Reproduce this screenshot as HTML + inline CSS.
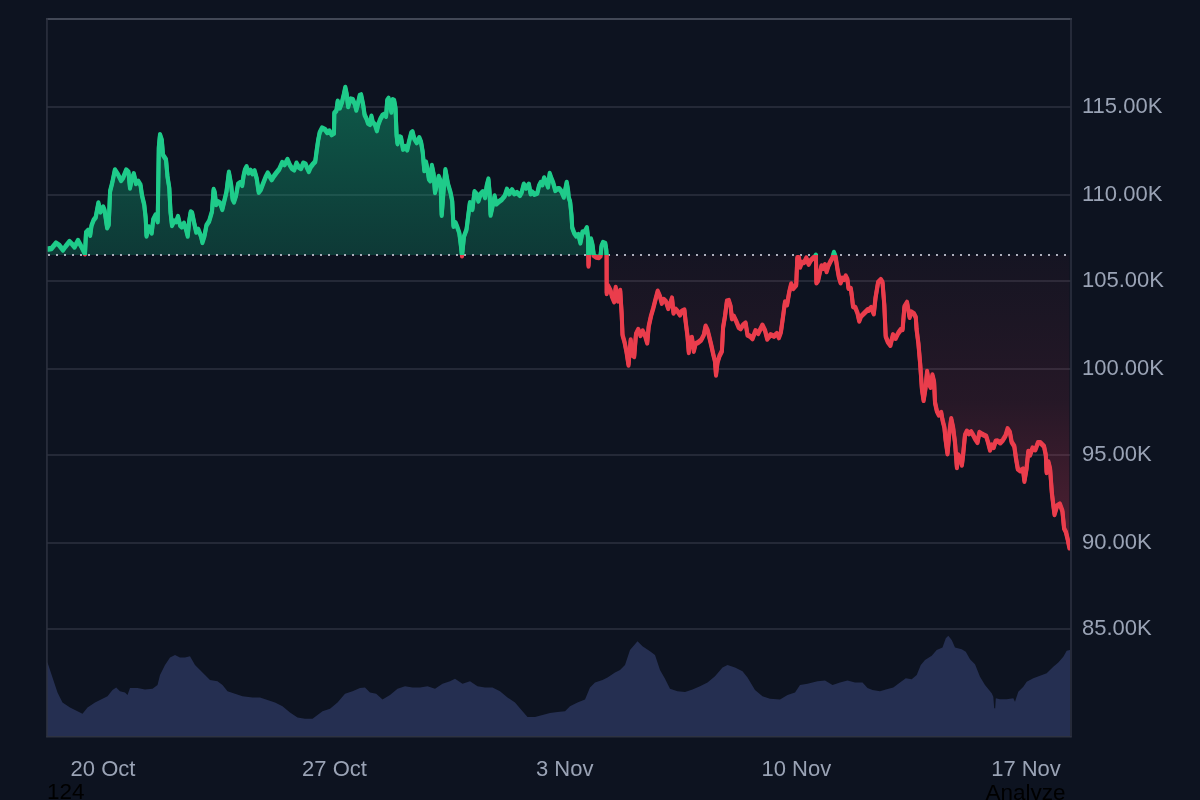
<!DOCTYPE html>
<html><head><meta charset="utf-8"><title>Chart</title>
<style>
html,body{margin:0;padding:0;width:1200px;height:800px;overflow:hidden;background:#0d1320;}
svg text{font-family:"Liberation Sans",Arial,sans-serif;font-size:22px;fill:#9aa3b5;}
.blk{position:absolute;font-family:"Liberation Sans",Arial,sans-serif;font-size:22.5px;color:#000;line-height:1;}
</style></head><body>
<svg width="1200" height="800" viewBox="0 0 1200 800" style="position:absolute;left:0;top:0">
<defs>
<linearGradient id="gG" gradientUnits="userSpaceOnUse" x1="0" y1="19" x2="0" y2="255.0">
<stop offset="0" stop-color="#10b981" stop-opacity="0.5"/><stop offset="1" stop-color="#10b981" stop-opacity="0.23"/></linearGradient>
<linearGradient id="gR" gradientUnits="userSpaceOnUse" x1="0" y1="255.0" x2="0" y2="550">
<stop offset="0" stop-color="#f43f5e" stop-opacity="0.035"/><stop offset="0.49" stop-color="#f43f5e" stop-opacity="0.105"/><stop offset="0.83" stop-color="#f43f5e" stop-opacity="0.235"/><stop offset="1" stop-color="#f43f5e" stop-opacity="0.3"/></linearGradient>
<clipPath id="cA"><rect x="47" y="19" width="1023" height="236.0"/></clipPath>
<clipPath id="cB"><rect x="47" y="255.0" width="1023" height="481.0"/></clipPath>
<clipPath id="cP"><rect x="47" y="19" width="1023" height="717"/></clipPath>
</defs>
<rect x="47" y="106" width="1023.5" height="2" fill="#242937"/>
<rect x="47" y="194" width="1023.5" height="2" fill="#242937"/>
<rect x="47" y="280" width="1023.5" height="2" fill="#242937"/>
<rect x="47" y="368" width="1023.5" height="2" fill="#242937"/>
<rect x="47" y="454" width="1023.5" height="2" fill="#242937"/>
<rect x="47" y="542" width="1023.5" height="2" fill="#242937"/>
<rect x="47" y="628" width="1023.5" height="2" fill="#242937"/>
<polygon points="47,736 47,662.5 47.5,662.5 52.5,677.5 57.5,692.5 62.5,702.5 70,707.5 77.5,711.2 82.5,713.7 87.5,707.5 95,702.5 102.5,698.7 107.5,696.2 112.5,690 116.2,687.5 120,691.2 125,692.5 127.5,695 130,688 137.5,688 145,689.5 152.5,688.7 157.5,685 160,675 165,665 170,657.5 175,655 180,657.5 185,657.5 190,656.2 195,665 200,670 205,675 210,680 217.5,681.2 222.5,685 227.5,691.2 235,693.7 242.5,696.2 252.5,697.5 260,697.5 267.5,700 275,702.5 282.5,706.2 290,712.5 297.5,717.5 305,718.7 312.5,718.7 317.5,715 322.5,711.2 330,708.7 337.5,702.5 345,693.7 352.5,691.2 360,688 365,687.5 370,692.5 376.2,693.7 382.5,699.5 390,695 397.5,688.7 405,686.2 412.5,687.5 420,687.5 427.5,686.2 435,688.7 442.5,683.7 450,681.2 455,678.7 462.5,683.7 470,681.2 477.5,686.2 485,687.5 492.5,687.5 500,691.2 507.5,697.5 515,702.5 522.5,711.2 527.5,717 535,717 542.5,715 550,713 557.5,712 565,711.2 570,706.2 577.5,702.5 585,699.5 590,687.5 595,682.5 602.5,680 607.5,677.5 615,672.5 620,670 625,665 630,650 637.5,641.2 642.5,646.2 650,651.2 655,655 660,670 665,678.7 670,688.7 677.5,691.2 685,692 692.5,689.5 700,686.2 707.5,682.5 715,676.2 722.5,667.5 727.5,665 735,667.5 742.5,671.2 747.5,677.5 755,690 762.5,696.2 770,698.7 780,699.5 787.5,695 795,692.5 800,685 807.5,683.7 817.5,681.2 825,680.5 832.5,685 840,682.5 847.5,680.5 855,682.5 862.5,682.5 867.5,688 872.5,690 880,691.2 886.7,689.2 893.3,687.5 900,682.5 905.8,678.3 911.7,679.2 916.7,675 920.8,665 925,660 931.7,655.8 936.7,650 942.5,647.5 945.8,638.3 948.3,635.8 951.7,640 955,647.5 961.7,649.2 965.8,651.7 970,659.2 975,664.2 980,676.7 985,685 991.7,693.3 993.3,696.7 994.2,708.3 995.2,708.3 995.8,698.3 1000,699.2 1006.7,699.2 1013.3,698.3 1015,701.7 1018.3,691.7 1023.3,686.7 1026.7,681.7 1033.3,678.3 1040,675.8 1046.7,673.3 1053.3,666.7 1058.3,662.5 1063.3,656.7 1066.7,650.8 1070,650 1070,736" fill="#252f51"/>
<polygon points="47,255 47,249 48.5,249 51.5,248.5 56,243 59,245 63,250 65.5,246.5 69.5,241.5 72,244 74.5,247 78,240.5 81,246 83.5,251 85,253.8 86,232.5 88.1,230.4 90.2,235.2 91.5,225.6 93.6,220.1 95.7,217.4 98.4,202.9 100.5,211.9 103.2,207 104.6,210.5 107.1,227.7 108.7,224.9 110.1,191.2 112.2,183 114.9,169.9 118,174.5 121,180.5 123.2,177.5 126.2,170 128.5,172.2 130,188 131.8,179 133.8,173.7 136,183.5 138.2,181.2 140.5,185 142,195.5 144.2,204.5 145.7,218 146.5,236 148.7,227 150.2,230 151.7,233 153.2,219.5 155.5,215 157.7,221.7 158.8,147.5 160,134.7 161.8,140 163,155 166,159.5 167.5,176.7 169.3,188 170.5,212 172,225.5 174.2,221 176.2,221.7 178,216.5 180.2,225.5 181.7,227 184,223.2 186.2,230 187.7,236 189.2,221 190.7,212 192.1,212.9 194.1,222.5 196.2,232.1 198.2,229.3 201,236.2 202.4,242.4 204.4,236.2 206.5,225.2 209.2,221.1 212,211.5 213.6,189.5 214.7,192.2 216.1,204.6 218.2,201.9 220.2,203.2 222.3,209.4 224.4,200.5 226.4,192.2 228.9,172.3 231.2,185.4 232.6,199.1 234,201.9 236,195.7 238.1,184 240.2,182.6 242.2,185.4 243.6,175.7 245,169.6 246.6,166.8 248.4,173 250.5,170.2 252.5,173.7 254.6,170.9 256.7,178.5 258.7,192.2 260.8,189.5 262.9,184 265.6,177.1 267.7,173 269.5,176 271.7,179.7 274,176 276.2,173 279.2,169.2 282.2,162.5 284.5,164.7 287.5,159.5 289.7,164.7 292,168.5 294.2,170 296.5,163.2 298.7,167 301,168.5 303.2,163.2 305.5,164 307,167.7 308.8,171.5 310.7,167 313,164 315.2,161.7 316.7,150.5 318.2,140 319.7,132.5 322,128 325,129.5 327.2,132.5 329.5,131 331.7,134.7 334,133.2 334.3,113 336.4,110.7 337.7,101.1 339.8,108 341.9,102.5 343.9,94.2 345.3,87.4 346.7,94.2 348.1,106.6 349.4,102.5 350.8,99 352.9,99.7 354.9,104.6 356.3,110 357.7,104.6 359.7,95.6 361.1,94.9 363.2,105.2 364.6,114.9 366.6,119 368,123.1 370,124.5 371.4,116.2 372.8,122.4 374.9,124.5 376.9,130.7 378.3,124.5 380.4,119 382.4,115.5 384.5,114.2 386.1,116.2 387.2,100.4 388.6,98.4 390,105.2 391.4,112.1 392.7,99.7 394.1,100.4 395.5,108 396.6,135.5 397.5,143.7 399.6,136.9 401,137.5 403,149.2 405.1,146.5 407.2,149.9 409.2,141 411.3,132.7 412.5,131.8 414.2,138.5 416.8,142.7 419.3,137.7 421,141.9 422.7,152 424.3,170.6 426,162.1 427.7,170.6 428.9,179 430.3,180.7 431.9,165.5 433.6,174 435,192.5 437,184.1 438.7,176.5 440.4,180.7 441.7,215.3 443.4,192.5 445.4,169.7 448,184.1 450.5,192.5 452.2,201 453.5,226.3 455.6,222.9 457.6,228 459.3,233 460.6,243.1 462,255.8 464,236.4 466.5,229.6 468.2,216.1 469.9,202.6 472.4,209.4 474.5,191.7 476.7,194.2 478.4,201 480.5,194.2 482.9,191.7 485.1,197.6 486.7,185.9 488.4,179.1 489.5,191.5 490.6,215.1 492.3,207.3 494.6,196 496.3,203.9 499.1,201.6 501.9,199.4 504.7,196 506.9,189.3 509.2,193.8 512,189.8 514.3,193.8 517.1,192.6 519.9,195.4 521.6,192.6 523.8,184.2 526.1,188.1 528.9,184.2 530.6,193.8 532.3,192.1 534.5,194.3 537.3,193.2 539,185.9 540.7,182.5 542.4,184.8 544.1,178 546.3,181.9 548,187 549.7,173.5 551.4,178.6 553.1,182.5 555.3,190.4 557.6,188.7 559.3,188.7 561.5,191.5 563.8,197.1 566.7,182.4 568.1,190.6 568.7,197.5 570.1,201.6 571.5,215.4 572.2,227.7 574.2,233.2 576.3,236 578.4,234.6 580.4,242.9 582.5,231.9 584.6,231.9 586.9,227.7 588,237.4 588.5,266 589.4,252.5 591,239 592.5,245 593.8,255.5 596,257 599,257.5 600.5,256 601.5,246 603,242.5 605.3,243.5 606.3,250 606.6,256 606.7,293.5 608.2,286 610.5,290.5 612,296.5 614.2,301.7 615.7,287.5 618,301 620.2,290.5 621.7,314.5 622.5,335 624.5,342 626.5,352 628.5,365 630.7,340 632.2,355 634.2,356.5 636,334 638.2,329.5 640.5,335.5 642.7,331 645,335.5 647.2,343 648.7,326.5 651,316 653.2,308.5 655.5,299.5 657.7,291.2 660,296.5 661.8,303.2 663.7,299.5 666,301.7 668.2,308.5 670.5,302.5 672,298 673.5,313 675.7,309.2 677.5,311.2 680,315 681.9,311.2 684.4,310 685.6,321.2 687.5,336.2 688.8,352.5 690,338.7 691.9,337.5 693.8,351.2 695.6,343.7 698.1,342.5 701.2,340 703.8,335 705.6,326.2 707.5,330 709.4,337.5 711.2,345 713.1,353.7 715,361.2 716,375 717.5,362.5 719.4,356.2 721.9,351.2 723.1,327.5 725,316.2 726.9,301.2 728.8,300.6 730.6,306.2 731.9,318.7 733.8,316.2 736.2,321.2 738.8,327.5 740.6,328.7 743.1,325 745.6,323.1 747.5,335 750,336.2 752.5,338.7 755.5,330.7 758.2,333.5 762.4,325.2 765.1,330.7 767.2,339 770.6,334.8 774.1,336.2 776.8,333.5 778.9,337.6 780.9,332.1 783,317 785,301.9 787.1,304.6 789.2,292.2 791.2,284 793.4,288.4 796.2,285 797.3,257.8 799,257.8 800.1,267 801.8,262.5 804.1,262.5 806.3,258 808.6,264.2 810.8,260.3 813.1,258 815.2,256.5 815.9,255.2 816.4,282.8 818.1,280.5 819.8,272.6 821.5,265.9 823.2,268.1 824.9,264.8 826.6,271.5 828.3,265.9 830.5,261.4 832.5,258 833.9,252.4 835.6,256.9 837.3,268.1 838.9,277.1 840.6,282.8 842.3,278.3 844,279.4 845.7,276 847.4,279.4 848.5,288.4 850.8,288.4 851.9,296.3 853,306.4 855.3,307.5 857.5,313.1 859.2,321 860.9,316.5 864.3,313.1 867.6,309.8 868.5,310.3 871.1,307.6 873.8,313.8 875.5,298 878.1,282.3 880.8,279.6 882.5,282.3 884.3,305 885.7,336.5 887.8,341.8 890.4,345.3 893,334.8 895.6,338.3 898.3,333 900.9,329.5 902.6,329.5 904.4,306.8 907,302.4 909.6,317.3 911.4,312 914,313.8 915.8,317.3 916.6,329.5 918.4,343.5 920.1,362.8 921.9,389 923.6,400.4 925.4,389 927.1,371.5 928.9,383.8 930.6,387.3 932.4,375 934.1,382 935,402.5 936.9,411.2 938.8,415 941.2,412.5 942.5,420 944.4,427.5 945.6,440 947.5,453.7 949.4,432.5 951.2,418.7 953.1,427.5 955,442.5 956.9,467.5 958.1,455 960,457.5 961.9,465 963.1,455 965,435 966.9,431.2 968.8,433.7 971.2,431.9 973.1,435 975,438.7 977.5,442.5 979.4,432.5 981.2,433.7 983.7,435 986.2,436.2 988.1,442.5 990,450 991.9,445 993.7,447.5 995.6,441.2 997.6,441 1000.3,442.8 1002.9,440.1 1005.5,435.8 1007.6,428.8 1009.9,432.3 1011.6,441.9 1014.3,446.3 1016,458.5 1017.8,469 1020.4,470.8 1023,469 1024.4,481.3 1026.5,469 1028.3,451.5 1030,455 1032.6,448 1035.3,449.8 1037.9,442.8 1040.5,442.8 1044,446.3 1045.8,455 1046.6,472.5 1048.4,462 1050.1,469 1051.9,493.5 1054.5,514.5 1057.1,505.8 1059.8,504 1062.4,511 1064.1,528.5 1065.9,532 1067.6,539 1069.4,547.8 1069.4,255" fill="url(#gG)" clip-path="url(#cA)"/>
<polygon points="47,255 47,249 48.5,249 51.5,248.5 56,243 59,245 63,250 65.5,246.5 69.5,241.5 72,244 74.5,247 78,240.5 81,246 83.5,251 85,253.8 86,232.5 88.1,230.4 90.2,235.2 91.5,225.6 93.6,220.1 95.7,217.4 98.4,202.9 100.5,211.9 103.2,207 104.6,210.5 107.1,227.7 108.7,224.9 110.1,191.2 112.2,183 114.9,169.9 118,174.5 121,180.5 123.2,177.5 126.2,170 128.5,172.2 130,188 131.8,179 133.8,173.7 136,183.5 138.2,181.2 140.5,185 142,195.5 144.2,204.5 145.7,218 146.5,236 148.7,227 150.2,230 151.7,233 153.2,219.5 155.5,215 157.7,221.7 158.8,147.5 160,134.7 161.8,140 163,155 166,159.5 167.5,176.7 169.3,188 170.5,212 172,225.5 174.2,221 176.2,221.7 178,216.5 180.2,225.5 181.7,227 184,223.2 186.2,230 187.7,236 189.2,221 190.7,212 192.1,212.9 194.1,222.5 196.2,232.1 198.2,229.3 201,236.2 202.4,242.4 204.4,236.2 206.5,225.2 209.2,221.1 212,211.5 213.6,189.5 214.7,192.2 216.1,204.6 218.2,201.9 220.2,203.2 222.3,209.4 224.4,200.5 226.4,192.2 228.9,172.3 231.2,185.4 232.6,199.1 234,201.9 236,195.7 238.1,184 240.2,182.6 242.2,185.4 243.6,175.7 245,169.6 246.6,166.8 248.4,173 250.5,170.2 252.5,173.7 254.6,170.9 256.7,178.5 258.7,192.2 260.8,189.5 262.9,184 265.6,177.1 267.7,173 269.5,176 271.7,179.7 274,176 276.2,173 279.2,169.2 282.2,162.5 284.5,164.7 287.5,159.5 289.7,164.7 292,168.5 294.2,170 296.5,163.2 298.7,167 301,168.5 303.2,163.2 305.5,164 307,167.7 308.8,171.5 310.7,167 313,164 315.2,161.7 316.7,150.5 318.2,140 319.7,132.5 322,128 325,129.5 327.2,132.5 329.5,131 331.7,134.7 334,133.2 334.3,113 336.4,110.7 337.7,101.1 339.8,108 341.9,102.5 343.9,94.2 345.3,87.4 346.7,94.2 348.1,106.6 349.4,102.5 350.8,99 352.9,99.7 354.9,104.6 356.3,110 357.7,104.6 359.7,95.6 361.1,94.9 363.2,105.2 364.6,114.9 366.6,119 368,123.1 370,124.5 371.4,116.2 372.8,122.4 374.9,124.5 376.9,130.7 378.3,124.5 380.4,119 382.4,115.5 384.5,114.2 386.1,116.2 387.2,100.4 388.6,98.4 390,105.2 391.4,112.1 392.7,99.7 394.1,100.4 395.5,108 396.6,135.5 397.5,143.7 399.6,136.9 401,137.5 403,149.2 405.1,146.5 407.2,149.9 409.2,141 411.3,132.7 412.5,131.8 414.2,138.5 416.8,142.7 419.3,137.7 421,141.9 422.7,152 424.3,170.6 426,162.1 427.7,170.6 428.9,179 430.3,180.7 431.9,165.5 433.6,174 435,192.5 437,184.1 438.7,176.5 440.4,180.7 441.7,215.3 443.4,192.5 445.4,169.7 448,184.1 450.5,192.5 452.2,201 453.5,226.3 455.6,222.9 457.6,228 459.3,233 460.6,243.1 462,255.8 464,236.4 466.5,229.6 468.2,216.1 469.9,202.6 472.4,209.4 474.5,191.7 476.7,194.2 478.4,201 480.5,194.2 482.9,191.7 485.1,197.6 486.7,185.9 488.4,179.1 489.5,191.5 490.6,215.1 492.3,207.3 494.6,196 496.3,203.9 499.1,201.6 501.9,199.4 504.7,196 506.9,189.3 509.2,193.8 512,189.8 514.3,193.8 517.1,192.6 519.9,195.4 521.6,192.6 523.8,184.2 526.1,188.1 528.9,184.2 530.6,193.8 532.3,192.1 534.5,194.3 537.3,193.2 539,185.9 540.7,182.5 542.4,184.8 544.1,178 546.3,181.9 548,187 549.7,173.5 551.4,178.6 553.1,182.5 555.3,190.4 557.6,188.7 559.3,188.7 561.5,191.5 563.8,197.1 566.7,182.4 568.1,190.6 568.7,197.5 570.1,201.6 571.5,215.4 572.2,227.7 574.2,233.2 576.3,236 578.4,234.6 580.4,242.9 582.5,231.9 584.6,231.9 586.9,227.7 588,237.4 588.5,266 589.4,252.5 591,239 592.5,245 593.8,255.5 596,257 599,257.5 600.5,256 601.5,246 603,242.5 605.3,243.5 606.3,250 606.6,256 606.7,293.5 608.2,286 610.5,290.5 612,296.5 614.2,301.7 615.7,287.5 618,301 620.2,290.5 621.7,314.5 622.5,335 624.5,342 626.5,352 628.5,365 630.7,340 632.2,355 634.2,356.5 636,334 638.2,329.5 640.5,335.5 642.7,331 645,335.5 647.2,343 648.7,326.5 651,316 653.2,308.5 655.5,299.5 657.7,291.2 660,296.5 661.8,303.2 663.7,299.5 666,301.7 668.2,308.5 670.5,302.5 672,298 673.5,313 675.7,309.2 677.5,311.2 680,315 681.9,311.2 684.4,310 685.6,321.2 687.5,336.2 688.8,352.5 690,338.7 691.9,337.5 693.8,351.2 695.6,343.7 698.1,342.5 701.2,340 703.8,335 705.6,326.2 707.5,330 709.4,337.5 711.2,345 713.1,353.7 715,361.2 716,375 717.5,362.5 719.4,356.2 721.9,351.2 723.1,327.5 725,316.2 726.9,301.2 728.8,300.6 730.6,306.2 731.9,318.7 733.8,316.2 736.2,321.2 738.8,327.5 740.6,328.7 743.1,325 745.6,323.1 747.5,335 750,336.2 752.5,338.7 755.5,330.7 758.2,333.5 762.4,325.2 765.1,330.7 767.2,339 770.6,334.8 774.1,336.2 776.8,333.5 778.9,337.6 780.9,332.1 783,317 785,301.9 787.1,304.6 789.2,292.2 791.2,284 793.4,288.4 796.2,285 797.3,257.8 799,257.8 800.1,267 801.8,262.5 804.1,262.5 806.3,258 808.6,264.2 810.8,260.3 813.1,258 815.2,256.5 815.9,255.2 816.4,282.8 818.1,280.5 819.8,272.6 821.5,265.9 823.2,268.1 824.9,264.8 826.6,271.5 828.3,265.9 830.5,261.4 832.5,258 833.9,252.4 835.6,256.9 837.3,268.1 838.9,277.1 840.6,282.8 842.3,278.3 844,279.4 845.7,276 847.4,279.4 848.5,288.4 850.8,288.4 851.9,296.3 853,306.4 855.3,307.5 857.5,313.1 859.2,321 860.9,316.5 864.3,313.1 867.6,309.8 868.5,310.3 871.1,307.6 873.8,313.8 875.5,298 878.1,282.3 880.8,279.6 882.5,282.3 884.3,305 885.7,336.5 887.8,341.8 890.4,345.3 893,334.8 895.6,338.3 898.3,333 900.9,329.5 902.6,329.5 904.4,306.8 907,302.4 909.6,317.3 911.4,312 914,313.8 915.8,317.3 916.6,329.5 918.4,343.5 920.1,362.8 921.9,389 923.6,400.4 925.4,389 927.1,371.5 928.9,383.8 930.6,387.3 932.4,375 934.1,382 935,402.5 936.9,411.2 938.8,415 941.2,412.5 942.5,420 944.4,427.5 945.6,440 947.5,453.7 949.4,432.5 951.2,418.7 953.1,427.5 955,442.5 956.9,467.5 958.1,455 960,457.5 961.9,465 963.1,455 965,435 966.9,431.2 968.8,433.7 971.2,431.9 973.1,435 975,438.7 977.5,442.5 979.4,432.5 981.2,433.7 983.7,435 986.2,436.2 988.1,442.5 990,450 991.9,445 993.7,447.5 995.6,441.2 997.6,441 1000.3,442.8 1002.9,440.1 1005.5,435.8 1007.6,428.8 1009.9,432.3 1011.6,441.9 1014.3,446.3 1016,458.5 1017.8,469 1020.4,470.8 1023,469 1024.4,481.3 1026.5,469 1028.3,451.5 1030,455 1032.6,448 1035.3,449.8 1037.9,442.8 1040.5,442.8 1044,446.3 1045.8,455 1046.6,472.5 1048.4,462 1050.1,469 1051.9,493.5 1054.5,514.5 1057.1,505.8 1059.8,504 1062.4,511 1064.1,528.5 1065.9,532 1067.6,539 1069.4,547.8 1069.4,255" fill="url(#gR)" clip-path="url(#cB)"/>
<path d="M48 254h2v2h-2zM56 254h2v2h-2zM64 254h2v2h-2zM72 254h2v2h-2zM80 254h2v2h-2zM88 254h2v2h-2zM96 254h2v2h-2zM104 254h2v2h-2zM112 254h2v2h-2zM120 254h2v2h-2zM128 254h2v2h-2zM136 254h2v2h-2zM144 254h2v2h-2zM152 254h2v2h-2zM160 254h2v2h-2zM168 254h2v2h-2zM176 254h2v2h-2zM184 254h2v2h-2zM192 254h2v2h-2zM200 254h2v2h-2zM208 254h2v2h-2zM216 254h2v2h-2zM224 254h2v2h-2zM232 254h2v2h-2zM240 254h2v2h-2zM248 254h2v2h-2zM256 254h2v2h-2zM264 254h2v2h-2zM272 254h2v2h-2zM280 254h2v2h-2zM288 254h2v2h-2zM296 254h2v2h-2zM304 254h2v2h-2zM312 254h2v2h-2zM320 254h2v2h-2zM328 254h2v2h-2zM336 254h2v2h-2zM344 254h2v2h-2zM352 254h2v2h-2zM360 254h2v2h-2zM368 254h2v2h-2zM376 254h2v2h-2zM384 254h2v2h-2zM392 254h2v2h-2zM400 254h2v2h-2zM408 254h2v2h-2zM416 254h2v2h-2zM424 254h2v2h-2zM432 254h2v2h-2zM440 254h2v2h-2zM448 254h2v2h-2zM456 254h2v2h-2zM464 254h2v2h-2zM472 254h2v2h-2zM480 254h2v2h-2zM488 254h2v2h-2zM496 254h2v2h-2zM504 254h2v2h-2zM512 254h2v2h-2zM520 254h2v2h-2zM528 254h2v2h-2zM536 254h2v2h-2zM544 254h2v2h-2zM552 254h2v2h-2zM560 254h2v2h-2zM568 254h2v2h-2zM576 254h2v2h-2zM584 254h2v2h-2zM592 254h2v2h-2zM600 254h2v2h-2zM608 254h2v2h-2zM616 254h2v2h-2zM624 254h2v2h-2zM632 254h2v2h-2zM640 254h2v2h-2zM648 254h2v2h-2zM656 254h2v2h-2zM664 254h2v2h-2zM672 254h2v2h-2zM680 254h2v2h-2zM688 254h2v2h-2zM696 254h2v2h-2zM704 254h2v2h-2zM712 254h2v2h-2zM720 254h2v2h-2zM728 254h2v2h-2zM736 254h2v2h-2zM744 254h2v2h-2zM752 254h2v2h-2zM760 254h2v2h-2zM768 254h2v2h-2zM776 254h2v2h-2zM784 254h2v2h-2zM792 254h2v2h-2zM800 254h2v2h-2zM808 254h2v2h-2zM816 254h2v2h-2zM824 254h2v2h-2zM832 254h2v2h-2zM840 254h2v2h-2zM848 254h2v2h-2zM856 254h2v2h-2zM864 254h2v2h-2zM872 254h2v2h-2zM880 254h2v2h-2zM888 254h2v2h-2zM896 254h2v2h-2zM904 254h2v2h-2zM912 254h2v2h-2zM920 254h2v2h-2zM928 254h2v2h-2zM936 254h2v2h-2zM944 254h2v2h-2zM952 254h2v2h-2zM960 254h2v2h-2zM968 254h2v2h-2zM976 254h2v2h-2zM984 254h2v2h-2zM992 254h2v2h-2zM1000 254h2v2h-2zM1008 254h2v2h-2zM1016 254h2v2h-2zM1024 254h2v2h-2zM1032 254h2v2h-2zM1040 254h2v2h-2zM1048 254h2v2h-2zM1056 254h2v2h-2zM1064 254h2v2h-2z" fill="#adb0bd"/>
<g fill="none" stroke-width="4" stroke-linejoin="round" stroke-linecap="round">
<g clip-path="url(#cA)" stroke="#1fcb8a"><polyline points="47,249 48.5,249 51.5,248.5 56,243 59,245 63,250 65.5,246.5 69.5,241.5 72,244 74.5,247 78,240.5 81,246 83.5,251 85,253.8 86,232.5 88.1,230.4 90.2,235.2 91.5,225.6 93.6,220.1 95.7,217.4 98.4,202.9 100.5,211.9 103.2,207 104.6,210.5 107.1,227.7 108.7,224.9 110.1,191.2 112.2,183 114.9,169.9 118,174.5 121,180.5 123.2,177.5 126.2,170 128.5,172.2 130,188 131.8,179 133.8,173.7 136,183.5 138.2,181.2 140.5,185 142,195.5 144.2,204.5 145.7,218 146.5,236 148.7,227 150.2,230 151.7,233 153.2,219.5 155.5,215 157.7,221.7 158.8,147.5 160,134.7 161.8,140 163,155 166,159.5 167.5,176.7 169.3,188 170.5,212 172,225.5 174.2,221 176.2,221.7 178,216.5 180.2,225.5 181.7,227 184,223.2 186.2,230 187.7,236 189.2,221 190.7,212 192.1,212.9 194.1,222.5 196.2,232.1 198.2,229.3 201,236.2 202.4,242.4 204.4,236.2 206.5,225.2 209.2,221.1 212,211.5 213.6,189.5 214.7,192.2 216.1,204.6 218.2,201.9 220.2,203.2 222.3,209.4 224.4,200.5 226.4,192.2 228.9,172.3 231.2,185.4 232.6,199.1 234,201.9 236,195.7 238.1,184 240.2,182.6 242.2,185.4 243.6,175.7 245,169.6 246.6,166.8 248.4,173 250.5,170.2 252.5,173.7 254.6,170.9 256.7,178.5 258.7,192.2 260.8,189.5 262.9,184 265.6,177.1 267.7,173 269.5,176 271.7,179.7 274,176 276.2,173 279.2,169.2 282.2,162.5 284.5,164.7 287.5,159.5 289.7,164.7 292,168.5 294.2,170 296.5,163.2 298.7,167 301,168.5 303.2,163.2 305.5,164 307,167.7 308.8,171.5 310.7,167 313,164 315.2,161.7 316.7,150.5 318.2,140 319.7,132.5 322,128 325,129.5 327.2,132.5 329.5,131 331.7,134.7 334,133.2 334.3,113 336.4,110.7 337.7,101.1 339.8,108 341.9,102.5 343.9,94.2 345.3,87.4 346.7,94.2 348.1,106.6 349.4,102.5 350.8,99 352.9,99.7 354.9,104.6 356.3,110 357.7,104.6 359.7,95.6 361.1,94.9 363.2,105.2 364.6,114.9 366.6,119 368,123.1 370,124.5 371.4,116.2 372.8,122.4 374.9,124.5 376.9,130.7 378.3,124.5 380.4,119 382.4,115.5 384.5,114.2 386.1,116.2 387.2,100.4 388.6,98.4 390,105.2 391.4,112.1 392.7,99.7 394.1,100.4 395.5,108 396.6,135.5 397.5,143.7 399.6,136.9 401,137.5 403,149.2 405.1,146.5 407.2,149.9 409.2,141 411.3,132.7 412.5,131.8 414.2,138.5 416.8,142.7 419.3,137.7 421,141.9 422.7,152 424.3,170.6 426,162.1 427.7,170.6 428.9,179 430.3,180.7 431.9,165.5 433.6,174 435,192.5 437,184.1 438.7,176.5 440.4,180.7 441.7,215.3 443.4,192.5 445.4,169.7 448,184.1 450.5,192.5 452.2,201 453.5,226.3 455.6,222.9 457.6,228 459.3,233 460.6,243.1 462,255.8 464,236.4 466.5,229.6 468.2,216.1 469.9,202.6 472.4,209.4 474.5,191.7 476.7,194.2 478.4,201 480.5,194.2 482.9,191.7 485.1,197.6 486.7,185.9 488.4,179.1 489.5,191.5 490.6,215.1 492.3,207.3 494.6,196 496.3,203.9 499.1,201.6 501.9,199.4 504.7,196 506.9,189.3 509.2,193.8 512,189.8 514.3,193.8 517.1,192.6 519.9,195.4 521.6,192.6 523.8,184.2 526.1,188.1 528.9,184.2 530.6,193.8 532.3,192.1 534.5,194.3 537.3,193.2 539,185.9 540.7,182.5 542.4,184.8 544.1,178 546.3,181.9 548,187 549.7,173.5 551.4,178.6 553.1,182.5 555.3,190.4 557.6,188.7 559.3,188.7 561.5,191.5 563.8,197.1 566.7,182.4 568.1,190.6 568.7,197.5 570.1,201.6 571.5,215.4 572.2,227.7 574.2,233.2 576.3,236 578.4,234.6 580.4,242.9 582.5,231.9 584.6,231.9 586.9,227.7 588,237.4 588.5,266 589.4,252.5 591,239 592.5,245 593.8,255.5 596,257 599,257.5 600.5,256 601.5,246 603,242.5 605.3,243.5 606.3,250 606.6,256 606.7,293.5 608.2,286 610.5,290.5 612,296.5 614.2,301.7 615.7,287.5 618,301 620.2,290.5 621.7,314.5 622.5,335 624.5,342 626.5,352 628.5,365 630.7,340 632.2,355 634.2,356.5 636,334 638.2,329.5 640.5,335.5 642.7,331 645,335.5 647.2,343 648.7,326.5 651,316 653.2,308.5 655.5,299.5 657.7,291.2 660,296.5 661.8,303.2 663.7,299.5 666,301.7 668.2,308.5 670.5,302.5 672,298 673.5,313 675.7,309.2 677.5,311.2 680,315 681.9,311.2 684.4,310 685.6,321.2 687.5,336.2 688.8,352.5 690,338.7 691.9,337.5 693.8,351.2 695.6,343.7 698.1,342.5 701.2,340 703.8,335 705.6,326.2 707.5,330 709.4,337.5 711.2,345 713.1,353.7 715,361.2 716,375 717.5,362.5 719.4,356.2 721.9,351.2 723.1,327.5 725,316.2 726.9,301.2 728.8,300.6 730.6,306.2 731.9,318.7 733.8,316.2 736.2,321.2 738.8,327.5 740.6,328.7 743.1,325 745.6,323.1 747.5,335 750,336.2 752.5,338.7 755.5,330.7 758.2,333.5 762.4,325.2 765.1,330.7 767.2,339 770.6,334.8 774.1,336.2 776.8,333.5 778.9,337.6 780.9,332.1 783,317 785,301.9 787.1,304.6 789.2,292.2 791.2,284 793.4,288.4 796.2,285 797.3,257.8 799,257.8 800.1,267 801.8,262.5 804.1,262.5 806.3,258 808.6,264.2 810.8,260.3 813.1,258 815.2,256.5 815.9,255.2 816.4,282.8 818.1,280.5 819.8,272.6 821.5,265.9 823.2,268.1 824.9,264.8 826.6,271.5 828.3,265.9 830.5,261.4 832.5,258 833.9,252.4 835.6,256.9 837.3,268.1 838.9,277.1 840.6,282.8 842.3,278.3 844,279.4 845.7,276 847.4,279.4 848.5,288.4 850.8,288.4 851.9,296.3 853,306.4 855.3,307.5 857.5,313.1 859.2,321 860.9,316.5 864.3,313.1 867.6,309.8 868.5,310.3 871.1,307.6 873.8,313.8 875.5,298 878.1,282.3 880.8,279.6 882.5,282.3 884.3,305 885.7,336.5 887.8,341.8 890.4,345.3 893,334.8 895.6,338.3 898.3,333 900.9,329.5 902.6,329.5 904.4,306.8 907,302.4 909.6,317.3 911.4,312 914,313.8 915.8,317.3 916.6,329.5 918.4,343.5 920.1,362.8 921.9,389 923.6,400.4 925.4,389 927.1,371.5 928.9,383.8 930.6,387.3 932.4,375 934.1,382 935,402.5 936.9,411.2 938.8,415 941.2,412.5 942.5,420 944.4,427.5 945.6,440 947.5,453.7 949.4,432.5 951.2,418.7 953.1,427.5 955,442.5 956.9,467.5 958.1,455 960,457.5 961.9,465 963.1,455 965,435 966.9,431.2 968.8,433.7 971.2,431.9 973.1,435 975,438.7 977.5,442.5 979.4,432.5 981.2,433.7 983.7,435 986.2,436.2 988.1,442.5 990,450 991.9,445 993.7,447.5 995.6,441.2 997.6,441 1000.3,442.8 1002.9,440.1 1005.5,435.8 1007.6,428.8 1009.9,432.3 1011.6,441.9 1014.3,446.3 1016,458.5 1017.8,469 1020.4,470.8 1023,469 1024.4,481.3 1026.5,469 1028.3,451.5 1030,455 1032.6,448 1035.3,449.8 1037.9,442.8 1040.5,442.8 1044,446.3 1045.8,455 1046.6,472.5 1048.4,462 1050.1,469 1051.9,493.5 1054.5,514.5 1057.1,505.8 1059.8,504 1062.4,511 1064.1,528.5 1065.9,532 1067.6,539 1069.4,547.8" transform="translate(0,-0.7)"/><polyline points="47,249 48.5,249 51.5,248.5 56,243 59,245 63,250 65.5,246.5 69.5,241.5 72,244 74.5,247 78,240.5 81,246 83.5,251 85,253.8 86,232.5 88.1,230.4 90.2,235.2 91.5,225.6 93.6,220.1 95.7,217.4 98.4,202.9 100.5,211.9 103.2,207 104.6,210.5 107.1,227.7 108.7,224.9 110.1,191.2 112.2,183 114.9,169.9 118,174.5 121,180.5 123.2,177.5 126.2,170 128.5,172.2 130,188 131.8,179 133.8,173.7 136,183.5 138.2,181.2 140.5,185 142,195.5 144.2,204.5 145.7,218 146.5,236 148.7,227 150.2,230 151.7,233 153.2,219.5 155.5,215 157.7,221.7 158.8,147.5 160,134.7 161.8,140 163,155 166,159.5 167.5,176.7 169.3,188 170.5,212 172,225.5 174.2,221 176.2,221.7 178,216.5 180.2,225.5 181.7,227 184,223.2 186.2,230 187.7,236 189.2,221 190.7,212 192.1,212.9 194.1,222.5 196.2,232.1 198.2,229.3 201,236.2 202.4,242.4 204.4,236.2 206.5,225.2 209.2,221.1 212,211.5 213.6,189.5 214.7,192.2 216.1,204.6 218.2,201.9 220.2,203.2 222.3,209.4 224.4,200.5 226.4,192.2 228.9,172.3 231.2,185.4 232.6,199.1 234,201.9 236,195.7 238.1,184 240.2,182.6 242.2,185.4 243.6,175.7 245,169.6 246.6,166.8 248.4,173 250.5,170.2 252.5,173.7 254.6,170.9 256.7,178.5 258.7,192.2 260.8,189.5 262.9,184 265.6,177.1 267.7,173 269.5,176 271.7,179.7 274,176 276.2,173 279.2,169.2 282.2,162.5 284.5,164.7 287.5,159.5 289.7,164.7 292,168.5 294.2,170 296.5,163.2 298.7,167 301,168.5 303.2,163.2 305.5,164 307,167.7 308.8,171.5 310.7,167 313,164 315.2,161.7 316.7,150.5 318.2,140 319.7,132.5 322,128 325,129.5 327.2,132.5 329.5,131 331.7,134.7 334,133.2 334.3,113 336.4,110.7 337.7,101.1 339.8,108 341.9,102.5 343.9,94.2 345.3,87.4 346.7,94.2 348.1,106.6 349.4,102.5 350.8,99 352.9,99.7 354.9,104.6 356.3,110 357.7,104.6 359.7,95.6 361.1,94.9 363.2,105.2 364.6,114.9 366.6,119 368,123.1 370,124.5 371.4,116.2 372.8,122.4 374.9,124.5 376.9,130.7 378.3,124.5 380.4,119 382.4,115.5 384.5,114.2 386.1,116.2 387.2,100.4 388.6,98.4 390,105.2 391.4,112.1 392.7,99.7 394.1,100.4 395.5,108 396.6,135.5 397.5,143.7 399.6,136.9 401,137.5 403,149.2 405.1,146.5 407.2,149.9 409.2,141 411.3,132.7 412.5,131.8 414.2,138.5 416.8,142.7 419.3,137.7 421,141.9 422.7,152 424.3,170.6 426,162.1 427.7,170.6 428.9,179 430.3,180.7 431.9,165.5 433.6,174 435,192.5 437,184.1 438.7,176.5 440.4,180.7 441.7,215.3 443.4,192.5 445.4,169.7 448,184.1 450.5,192.5 452.2,201 453.5,226.3 455.6,222.9 457.6,228 459.3,233 460.6,243.1 462,255.8 464,236.4 466.5,229.6 468.2,216.1 469.9,202.6 472.4,209.4 474.5,191.7 476.7,194.2 478.4,201 480.5,194.2 482.9,191.7 485.1,197.6 486.7,185.9 488.4,179.1 489.5,191.5 490.6,215.1 492.3,207.3 494.6,196 496.3,203.9 499.1,201.6 501.9,199.4 504.7,196 506.9,189.3 509.2,193.8 512,189.8 514.3,193.8 517.1,192.6 519.9,195.4 521.6,192.6 523.8,184.2 526.1,188.1 528.9,184.2 530.6,193.8 532.3,192.1 534.5,194.3 537.3,193.2 539,185.9 540.7,182.5 542.4,184.8 544.1,178 546.3,181.9 548,187 549.7,173.5 551.4,178.6 553.1,182.5 555.3,190.4 557.6,188.7 559.3,188.7 561.5,191.5 563.8,197.1 566.7,182.4 568.1,190.6 568.7,197.5 570.1,201.6 571.5,215.4 572.2,227.7 574.2,233.2 576.3,236 578.4,234.6 580.4,242.9 582.5,231.9 584.6,231.9 586.9,227.7 588,237.4 588.5,266 589.4,252.5 591,239 592.5,245 593.8,255.5 596,257 599,257.5 600.5,256 601.5,246 603,242.5 605.3,243.5 606.3,250 606.6,256 606.7,293.5 608.2,286 610.5,290.5 612,296.5 614.2,301.7 615.7,287.5 618,301 620.2,290.5 621.7,314.5 622.5,335 624.5,342 626.5,352 628.5,365 630.7,340 632.2,355 634.2,356.5 636,334 638.2,329.5 640.5,335.5 642.7,331 645,335.5 647.2,343 648.7,326.5 651,316 653.2,308.5 655.5,299.5 657.7,291.2 660,296.5 661.8,303.2 663.7,299.5 666,301.7 668.2,308.5 670.5,302.5 672,298 673.5,313 675.7,309.2 677.5,311.2 680,315 681.9,311.2 684.4,310 685.6,321.2 687.5,336.2 688.8,352.5 690,338.7 691.9,337.5 693.8,351.2 695.6,343.7 698.1,342.5 701.2,340 703.8,335 705.6,326.2 707.5,330 709.4,337.5 711.2,345 713.1,353.7 715,361.2 716,375 717.5,362.5 719.4,356.2 721.9,351.2 723.1,327.5 725,316.2 726.9,301.2 728.8,300.6 730.6,306.2 731.9,318.7 733.8,316.2 736.2,321.2 738.8,327.5 740.6,328.7 743.1,325 745.6,323.1 747.5,335 750,336.2 752.5,338.7 755.5,330.7 758.2,333.5 762.4,325.2 765.1,330.7 767.2,339 770.6,334.8 774.1,336.2 776.8,333.5 778.9,337.6 780.9,332.1 783,317 785,301.9 787.1,304.6 789.2,292.2 791.2,284 793.4,288.4 796.2,285 797.3,257.8 799,257.8 800.1,267 801.8,262.5 804.1,262.5 806.3,258 808.6,264.2 810.8,260.3 813.1,258 815.2,256.5 815.9,255.2 816.4,282.8 818.1,280.5 819.8,272.6 821.5,265.9 823.2,268.1 824.9,264.8 826.6,271.5 828.3,265.9 830.5,261.4 832.5,258 833.9,252.4 835.6,256.9 837.3,268.1 838.9,277.1 840.6,282.8 842.3,278.3 844,279.4 845.7,276 847.4,279.4 848.5,288.4 850.8,288.4 851.9,296.3 853,306.4 855.3,307.5 857.5,313.1 859.2,321 860.9,316.5 864.3,313.1 867.6,309.8 868.5,310.3 871.1,307.6 873.8,313.8 875.5,298 878.1,282.3 880.8,279.6 882.5,282.3 884.3,305 885.7,336.5 887.8,341.8 890.4,345.3 893,334.8 895.6,338.3 898.3,333 900.9,329.5 902.6,329.5 904.4,306.8 907,302.4 909.6,317.3 911.4,312 914,313.8 915.8,317.3 916.6,329.5 918.4,343.5 920.1,362.8 921.9,389 923.6,400.4 925.4,389 927.1,371.5 928.9,383.8 930.6,387.3 932.4,375 934.1,382 935,402.5 936.9,411.2 938.8,415 941.2,412.5 942.5,420 944.4,427.5 945.6,440 947.5,453.7 949.4,432.5 951.2,418.7 953.1,427.5 955,442.5 956.9,467.5 958.1,455 960,457.5 961.9,465 963.1,455 965,435 966.9,431.2 968.8,433.7 971.2,431.9 973.1,435 975,438.7 977.5,442.5 979.4,432.5 981.2,433.7 983.7,435 986.2,436.2 988.1,442.5 990,450 991.9,445 993.7,447.5 995.6,441.2 997.6,441 1000.3,442.8 1002.9,440.1 1005.5,435.8 1007.6,428.8 1009.9,432.3 1011.6,441.9 1014.3,446.3 1016,458.5 1017.8,469 1020.4,470.8 1023,469 1024.4,481.3 1026.5,469 1028.3,451.5 1030,455 1032.6,448 1035.3,449.8 1037.9,442.8 1040.5,442.8 1044,446.3 1045.8,455 1046.6,472.5 1048.4,462 1050.1,469 1051.9,493.5 1054.5,514.5 1057.1,505.8 1059.8,504 1062.4,511 1064.1,528.5 1065.9,532 1067.6,539 1069.4,547.8" transform="translate(0,0.7)"/></g>
<g clip-path="url(#cB)" stroke="#ea3d4c"><polyline points="47,249 48.5,249 51.5,248.5 56,243 59,245 63,250 65.5,246.5 69.5,241.5 72,244 74.5,247 78,240.5 81,246 83.5,251 85,253.8 86,232.5 88.1,230.4 90.2,235.2 91.5,225.6 93.6,220.1 95.7,217.4 98.4,202.9 100.5,211.9 103.2,207 104.6,210.5 107.1,227.7 108.7,224.9 110.1,191.2 112.2,183 114.9,169.9 118,174.5 121,180.5 123.2,177.5 126.2,170 128.5,172.2 130,188 131.8,179 133.8,173.7 136,183.5 138.2,181.2 140.5,185 142,195.5 144.2,204.5 145.7,218 146.5,236 148.7,227 150.2,230 151.7,233 153.2,219.5 155.5,215 157.7,221.7 158.8,147.5 160,134.7 161.8,140 163,155 166,159.5 167.5,176.7 169.3,188 170.5,212 172,225.5 174.2,221 176.2,221.7 178,216.5 180.2,225.5 181.7,227 184,223.2 186.2,230 187.7,236 189.2,221 190.7,212 192.1,212.9 194.1,222.5 196.2,232.1 198.2,229.3 201,236.2 202.4,242.4 204.4,236.2 206.5,225.2 209.2,221.1 212,211.5 213.6,189.5 214.7,192.2 216.1,204.6 218.2,201.9 220.2,203.2 222.3,209.4 224.4,200.5 226.4,192.2 228.9,172.3 231.2,185.4 232.6,199.1 234,201.9 236,195.7 238.1,184 240.2,182.6 242.2,185.4 243.6,175.7 245,169.6 246.6,166.8 248.4,173 250.5,170.2 252.5,173.7 254.6,170.9 256.7,178.5 258.7,192.2 260.8,189.5 262.9,184 265.6,177.1 267.7,173 269.5,176 271.7,179.7 274,176 276.2,173 279.2,169.2 282.2,162.5 284.5,164.7 287.5,159.5 289.7,164.7 292,168.5 294.2,170 296.5,163.2 298.7,167 301,168.5 303.2,163.2 305.5,164 307,167.7 308.8,171.5 310.7,167 313,164 315.2,161.7 316.7,150.5 318.2,140 319.7,132.5 322,128 325,129.5 327.2,132.5 329.5,131 331.7,134.7 334,133.2 334.3,113 336.4,110.7 337.7,101.1 339.8,108 341.9,102.5 343.9,94.2 345.3,87.4 346.7,94.2 348.1,106.6 349.4,102.5 350.8,99 352.9,99.7 354.9,104.6 356.3,110 357.7,104.6 359.7,95.6 361.1,94.9 363.2,105.2 364.6,114.9 366.6,119 368,123.1 370,124.5 371.4,116.2 372.8,122.4 374.9,124.5 376.9,130.7 378.3,124.5 380.4,119 382.4,115.5 384.5,114.2 386.1,116.2 387.2,100.4 388.6,98.4 390,105.2 391.4,112.1 392.7,99.7 394.1,100.4 395.5,108 396.6,135.5 397.5,143.7 399.6,136.9 401,137.5 403,149.2 405.1,146.5 407.2,149.9 409.2,141 411.3,132.7 412.5,131.8 414.2,138.5 416.8,142.7 419.3,137.7 421,141.9 422.7,152 424.3,170.6 426,162.1 427.7,170.6 428.9,179 430.3,180.7 431.9,165.5 433.6,174 435,192.5 437,184.1 438.7,176.5 440.4,180.7 441.7,215.3 443.4,192.5 445.4,169.7 448,184.1 450.5,192.5 452.2,201 453.5,226.3 455.6,222.9 457.6,228 459.3,233 460.6,243.1 462,255.8 464,236.4 466.5,229.6 468.2,216.1 469.9,202.6 472.4,209.4 474.5,191.7 476.7,194.2 478.4,201 480.5,194.2 482.9,191.7 485.1,197.6 486.7,185.9 488.4,179.1 489.5,191.5 490.6,215.1 492.3,207.3 494.6,196 496.3,203.9 499.1,201.6 501.9,199.4 504.7,196 506.9,189.3 509.2,193.8 512,189.8 514.3,193.8 517.1,192.6 519.9,195.4 521.6,192.6 523.8,184.2 526.1,188.1 528.9,184.2 530.6,193.8 532.3,192.1 534.5,194.3 537.3,193.2 539,185.9 540.7,182.5 542.4,184.8 544.1,178 546.3,181.9 548,187 549.7,173.5 551.4,178.6 553.1,182.5 555.3,190.4 557.6,188.7 559.3,188.7 561.5,191.5 563.8,197.1 566.7,182.4 568.1,190.6 568.7,197.5 570.1,201.6 571.5,215.4 572.2,227.7 574.2,233.2 576.3,236 578.4,234.6 580.4,242.9 582.5,231.9 584.6,231.9 586.9,227.7 588,237.4 588.5,266 589.4,252.5 591,239 592.5,245 593.8,255.5 596,257 599,257.5 600.5,256 601.5,246 603,242.5 605.3,243.5 606.3,250 606.6,256 606.7,293.5 608.2,286 610.5,290.5 612,296.5 614.2,301.7 615.7,287.5 618,301 620.2,290.5 621.7,314.5 622.5,335 624.5,342 626.5,352 628.5,365 630.7,340 632.2,355 634.2,356.5 636,334 638.2,329.5 640.5,335.5 642.7,331 645,335.5 647.2,343 648.7,326.5 651,316 653.2,308.5 655.5,299.5 657.7,291.2 660,296.5 661.8,303.2 663.7,299.5 666,301.7 668.2,308.5 670.5,302.5 672,298 673.5,313 675.7,309.2 677.5,311.2 680,315 681.9,311.2 684.4,310 685.6,321.2 687.5,336.2 688.8,352.5 690,338.7 691.9,337.5 693.8,351.2 695.6,343.7 698.1,342.5 701.2,340 703.8,335 705.6,326.2 707.5,330 709.4,337.5 711.2,345 713.1,353.7 715,361.2 716,375 717.5,362.5 719.4,356.2 721.9,351.2 723.1,327.5 725,316.2 726.9,301.2 728.8,300.6 730.6,306.2 731.9,318.7 733.8,316.2 736.2,321.2 738.8,327.5 740.6,328.7 743.1,325 745.6,323.1 747.5,335 750,336.2 752.5,338.7 755.5,330.7 758.2,333.5 762.4,325.2 765.1,330.7 767.2,339 770.6,334.8 774.1,336.2 776.8,333.5 778.9,337.6 780.9,332.1 783,317 785,301.9 787.1,304.6 789.2,292.2 791.2,284 793.4,288.4 796.2,285 797.3,257.8 799,257.8 800.1,267 801.8,262.5 804.1,262.5 806.3,258 808.6,264.2 810.8,260.3 813.1,258 815.2,256.5 815.9,255.2 816.4,282.8 818.1,280.5 819.8,272.6 821.5,265.9 823.2,268.1 824.9,264.8 826.6,271.5 828.3,265.9 830.5,261.4 832.5,258 833.9,252.4 835.6,256.9 837.3,268.1 838.9,277.1 840.6,282.8 842.3,278.3 844,279.4 845.7,276 847.4,279.4 848.5,288.4 850.8,288.4 851.9,296.3 853,306.4 855.3,307.5 857.5,313.1 859.2,321 860.9,316.5 864.3,313.1 867.6,309.8 868.5,310.3 871.1,307.6 873.8,313.8 875.5,298 878.1,282.3 880.8,279.6 882.5,282.3 884.3,305 885.7,336.5 887.8,341.8 890.4,345.3 893,334.8 895.6,338.3 898.3,333 900.9,329.5 902.6,329.5 904.4,306.8 907,302.4 909.6,317.3 911.4,312 914,313.8 915.8,317.3 916.6,329.5 918.4,343.5 920.1,362.8 921.9,389 923.6,400.4 925.4,389 927.1,371.5 928.9,383.8 930.6,387.3 932.4,375 934.1,382 935,402.5 936.9,411.2 938.8,415 941.2,412.5 942.5,420 944.4,427.5 945.6,440 947.5,453.7 949.4,432.5 951.2,418.7 953.1,427.5 955,442.5 956.9,467.5 958.1,455 960,457.5 961.9,465 963.1,455 965,435 966.9,431.2 968.8,433.7 971.2,431.9 973.1,435 975,438.7 977.5,442.5 979.4,432.5 981.2,433.7 983.7,435 986.2,436.2 988.1,442.5 990,450 991.9,445 993.7,447.5 995.6,441.2 997.6,441 1000.3,442.8 1002.9,440.1 1005.5,435.8 1007.6,428.8 1009.9,432.3 1011.6,441.9 1014.3,446.3 1016,458.5 1017.8,469 1020.4,470.8 1023,469 1024.4,481.3 1026.5,469 1028.3,451.5 1030,455 1032.6,448 1035.3,449.8 1037.9,442.8 1040.5,442.8 1044,446.3 1045.8,455 1046.6,472.5 1048.4,462 1050.1,469 1051.9,493.5 1054.5,514.5 1057.1,505.8 1059.8,504 1062.4,511 1064.1,528.5 1065.9,532 1067.6,539 1069.4,547.8" transform="translate(0,-0.7)"/><polyline points="47,249 48.5,249 51.5,248.5 56,243 59,245 63,250 65.5,246.5 69.5,241.5 72,244 74.5,247 78,240.5 81,246 83.5,251 85,253.8 86,232.5 88.1,230.4 90.2,235.2 91.5,225.6 93.6,220.1 95.7,217.4 98.4,202.9 100.5,211.9 103.2,207 104.6,210.5 107.1,227.7 108.7,224.9 110.1,191.2 112.2,183 114.9,169.9 118,174.5 121,180.5 123.2,177.5 126.2,170 128.5,172.2 130,188 131.8,179 133.8,173.7 136,183.5 138.2,181.2 140.5,185 142,195.5 144.2,204.5 145.7,218 146.5,236 148.7,227 150.2,230 151.7,233 153.2,219.5 155.5,215 157.7,221.7 158.8,147.5 160,134.7 161.8,140 163,155 166,159.5 167.5,176.7 169.3,188 170.5,212 172,225.5 174.2,221 176.2,221.7 178,216.5 180.2,225.5 181.7,227 184,223.2 186.2,230 187.7,236 189.2,221 190.7,212 192.1,212.9 194.1,222.5 196.2,232.1 198.2,229.3 201,236.2 202.4,242.4 204.4,236.2 206.5,225.2 209.2,221.1 212,211.5 213.6,189.5 214.7,192.2 216.1,204.6 218.2,201.9 220.2,203.2 222.3,209.4 224.4,200.5 226.4,192.2 228.9,172.3 231.2,185.4 232.6,199.1 234,201.9 236,195.7 238.1,184 240.2,182.6 242.2,185.4 243.6,175.7 245,169.6 246.6,166.8 248.4,173 250.5,170.2 252.5,173.7 254.6,170.9 256.7,178.5 258.7,192.2 260.8,189.5 262.9,184 265.6,177.1 267.7,173 269.5,176 271.7,179.7 274,176 276.2,173 279.2,169.2 282.2,162.5 284.5,164.7 287.5,159.5 289.7,164.7 292,168.5 294.2,170 296.5,163.2 298.7,167 301,168.5 303.2,163.2 305.5,164 307,167.7 308.8,171.5 310.7,167 313,164 315.2,161.7 316.7,150.5 318.2,140 319.7,132.5 322,128 325,129.5 327.2,132.5 329.5,131 331.7,134.7 334,133.2 334.3,113 336.4,110.7 337.7,101.1 339.8,108 341.9,102.5 343.9,94.2 345.3,87.4 346.7,94.2 348.1,106.6 349.4,102.5 350.8,99 352.9,99.7 354.9,104.6 356.3,110 357.7,104.6 359.7,95.6 361.1,94.9 363.2,105.2 364.6,114.9 366.6,119 368,123.1 370,124.5 371.4,116.2 372.8,122.4 374.9,124.5 376.9,130.7 378.3,124.5 380.4,119 382.4,115.5 384.5,114.2 386.1,116.2 387.2,100.4 388.6,98.4 390,105.2 391.4,112.1 392.7,99.7 394.1,100.4 395.5,108 396.6,135.5 397.5,143.7 399.6,136.9 401,137.5 403,149.2 405.1,146.5 407.2,149.9 409.2,141 411.3,132.7 412.5,131.8 414.2,138.5 416.8,142.7 419.3,137.7 421,141.9 422.7,152 424.3,170.6 426,162.1 427.7,170.6 428.9,179 430.3,180.7 431.9,165.5 433.6,174 435,192.5 437,184.1 438.7,176.5 440.4,180.7 441.7,215.3 443.4,192.5 445.4,169.7 448,184.1 450.5,192.5 452.2,201 453.5,226.3 455.6,222.9 457.6,228 459.3,233 460.6,243.1 462,255.8 464,236.4 466.5,229.6 468.2,216.1 469.9,202.6 472.4,209.4 474.5,191.7 476.7,194.2 478.4,201 480.5,194.2 482.9,191.7 485.1,197.6 486.7,185.9 488.4,179.1 489.5,191.5 490.6,215.1 492.3,207.3 494.6,196 496.3,203.9 499.1,201.6 501.9,199.4 504.7,196 506.9,189.3 509.2,193.8 512,189.8 514.3,193.8 517.1,192.6 519.9,195.4 521.6,192.6 523.8,184.2 526.1,188.1 528.9,184.2 530.6,193.8 532.3,192.1 534.5,194.3 537.3,193.2 539,185.9 540.7,182.5 542.4,184.8 544.1,178 546.3,181.9 548,187 549.7,173.5 551.4,178.6 553.1,182.5 555.3,190.4 557.6,188.7 559.3,188.7 561.5,191.5 563.8,197.1 566.7,182.4 568.1,190.6 568.7,197.5 570.1,201.6 571.5,215.4 572.2,227.7 574.2,233.2 576.3,236 578.4,234.6 580.4,242.9 582.5,231.9 584.6,231.9 586.9,227.7 588,237.4 588.5,266 589.4,252.5 591,239 592.5,245 593.8,255.5 596,257 599,257.5 600.5,256 601.5,246 603,242.5 605.3,243.5 606.3,250 606.6,256 606.7,293.5 608.2,286 610.5,290.5 612,296.5 614.2,301.7 615.7,287.5 618,301 620.2,290.5 621.7,314.5 622.5,335 624.5,342 626.5,352 628.5,365 630.7,340 632.2,355 634.2,356.5 636,334 638.2,329.5 640.5,335.5 642.7,331 645,335.5 647.2,343 648.7,326.5 651,316 653.2,308.5 655.5,299.5 657.7,291.2 660,296.5 661.8,303.2 663.7,299.5 666,301.7 668.2,308.5 670.5,302.5 672,298 673.5,313 675.7,309.2 677.5,311.2 680,315 681.9,311.2 684.4,310 685.6,321.2 687.5,336.2 688.8,352.5 690,338.7 691.9,337.5 693.8,351.2 695.6,343.7 698.1,342.5 701.2,340 703.8,335 705.6,326.2 707.5,330 709.4,337.5 711.2,345 713.1,353.7 715,361.2 716,375 717.5,362.5 719.4,356.2 721.9,351.2 723.1,327.5 725,316.2 726.9,301.2 728.8,300.6 730.6,306.2 731.9,318.7 733.8,316.2 736.2,321.2 738.8,327.5 740.6,328.7 743.1,325 745.6,323.1 747.5,335 750,336.2 752.5,338.7 755.5,330.7 758.2,333.5 762.4,325.2 765.1,330.7 767.2,339 770.6,334.8 774.1,336.2 776.8,333.5 778.9,337.6 780.9,332.1 783,317 785,301.9 787.1,304.6 789.2,292.2 791.2,284 793.4,288.4 796.2,285 797.3,257.8 799,257.8 800.1,267 801.8,262.5 804.1,262.5 806.3,258 808.6,264.2 810.8,260.3 813.1,258 815.2,256.5 815.9,255.2 816.4,282.8 818.1,280.5 819.8,272.6 821.5,265.9 823.2,268.1 824.9,264.8 826.6,271.5 828.3,265.9 830.5,261.4 832.5,258 833.9,252.4 835.6,256.9 837.3,268.1 838.9,277.1 840.6,282.8 842.3,278.3 844,279.4 845.7,276 847.4,279.4 848.5,288.4 850.8,288.4 851.9,296.3 853,306.4 855.3,307.5 857.5,313.1 859.2,321 860.9,316.5 864.3,313.1 867.6,309.8 868.5,310.3 871.1,307.6 873.8,313.8 875.5,298 878.1,282.3 880.8,279.6 882.5,282.3 884.3,305 885.7,336.5 887.8,341.8 890.4,345.3 893,334.8 895.6,338.3 898.3,333 900.9,329.5 902.6,329.5 904.4,306.8 907,302.4 909.6,317.3 911.4,312 914,313.8 915.8,317.3 916.6,329.5 918.4,343.5 920.1,362.8 921.9,389 923.6,400.4 925.4,389 927.1,371.5 928.9,383.8 930.6,387.3 932.4,375 934.1,382 935,402.5 936.9,411.2 938.8,415 941.2,412.5 942.5,420 944.4,427.5 945.6,440 947.5,453.7 949.4,432.5 951.2,418.7 953.1,427.5 955,442.5 956.9,467.5 958.1,455 960,457.5 961.9,465 963.1,455 965,435 966.9,431.2 968.8,433.7 971.2,431.9 973.1,435 975,438.7 977.5,442.5 979.4,432.5 981.2,433.7 983.7,435 986.2,436.2 988.1,442.5 990,450 991.9,445 993.7,447.5 995.6,441.2 997.6,441 1000.3,442.8 1002.9,440.1 1005.5,435.8 1007.6,428.8 1009.9,432.3 1011.6,441.9 1014.3,446.3 1016,458.5 1017.8,469 1020.4,470.8 1023,469 1024.4,481.3 1026.5,469 1028.3,451.5 1030,455 1032.6,448 1035.3,449.8 1037.9,442.8 1040.5,442.8 1044,446.3 1045.8,455 1046.6,472.5 1048.4,462 1050.1,469 1051.9,493.5 1054.5,514.5 1057.1,505.8 1059.8,504 1062.4,511 1064.1,528.5 1065.9,532 1067.6,539 1069.4,547.8" transform="translate(0,0.7)"/></g>
</g>
<rect x="46" y="18" width="1026" height="2" fill="#424856"/>
<rect x="46.2" y="18.2" width="1.5" height="719" fill="#2e3341"/>
<rect x="1070.25" y="18.2" width="1.5" height="719" fill="#2e3341"/>
<rect x="46.2" y="736" width="1025.5" height="1.5" fill="#2e3341"/>
<text x="1082" y="113" class="pl">115.00K</text>
<text x="1082" y="201" class="pl">110.00K</text>
<text x="1082" y="287" class="pl">105.00K</text>
<text x="1082" y="375" class="pl">100.00K</text>
<text x="1082" y="461" class="pl">95.00K</text>
<text x="1082" y="549" class="pl">90.00K</text>
<text x="1082" y="635" class="pl">85.00K</text>
<text x="103" y="776" class="tl" text-anchor="middle">20 Oct</text>
<text x="334.5" y="776" class="tl" text-anchor="middle">27 Oct</text>
<text x="564.7" y="776" class="tl" text-anchor="middle">3 Nov</text>
<text x="796.4" y="776" class="tl" text-anchor="middle">10 Nov</text>
<text x="1026" y="776" class="tl" text-anchor="middle">17 Nov</text>
</svg>
<div class="blk" style="left:47px;top:780.8px">124</div>
<div class="blk" style="left:985.5px;top:781.5px">Analyze</div>
</body></html>
